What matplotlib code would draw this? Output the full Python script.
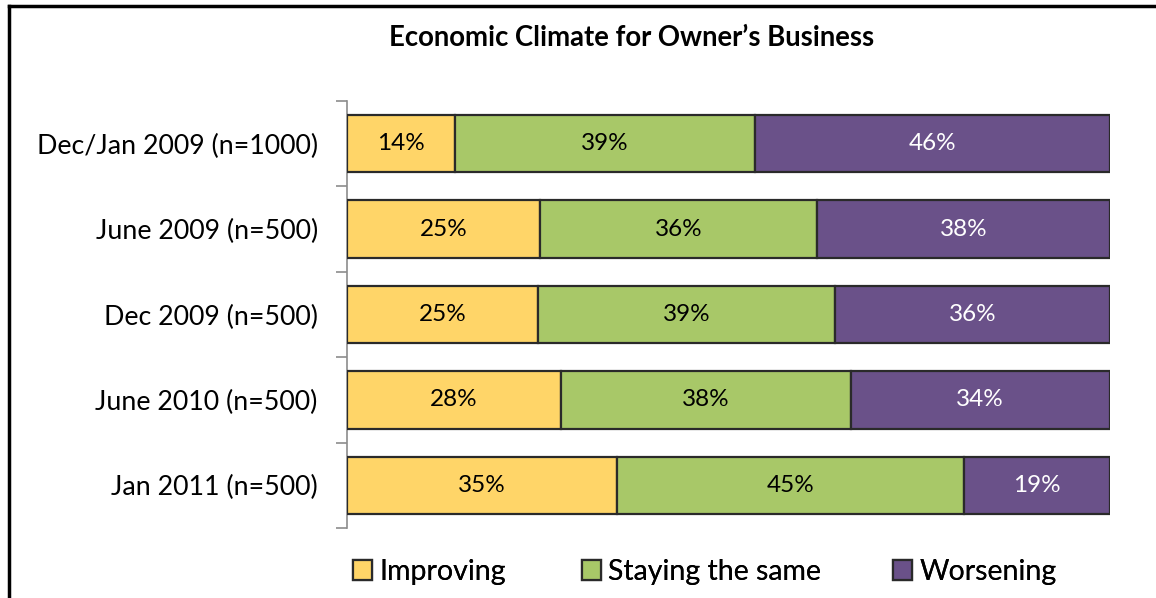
import matplotlib
matplotlib.use("Agg")
import matplotlib.pyplot as plt
from matplotlib.lines import Line2D
import numpy as np

plt.rcParams['font.family'] = ['Lato', 'DejaVu Sans']

categories = ["Dec/Jan 2009 (n=1000)", "June 2009 (n=500)", "Dec 2009 (n=500)",
              "June 2010 (n=500)", "Jan 2011 (n=500)"]
series_names = ["Improving", "Staying the same", "Worsening"]
improving = [14, 25, 25, 28, 35]
staying = [39, 36, 39, 38, 45]
worsening = [46, 38, 36, 34, 19]
title = "Economic Climate for Owner\u2019s Business"

colors = ["#FFD568", "#A8C868", "#6A5189"]
text_colors = ["black", "black", "white"]

W, H = 1156, 598
fig = plt.figure(figsize=(W / 100, H / 100), dpi=100)
ax = fig.add_axes([347 / W, 1 - 528 / H, (1110 - 347) / W, (528 - 101) / H])

y = np.arange(len(categories))
series = [np.array(s, dtype=float) for s in (improving, staying, worsening)]
totals = sum(series)
left = np.zeros(len(categories))
handles = []
for name, vals, c, tc in zip(series_names, series, colors, text_colors):
    share = vals / totals * 100
    bars = ax.barh(y, share, left=left, height=0.67, color=c, edgecolor="#2a2a2a",
                   linewidth=1.6, label=name, zorder=3)
    handles.append(bars)
    for b, v in zip(bars, vals):
        ax.text(b.get_x() + b.get_width() / 2, b.get_y() + b.get_height() / 2,
                f"{int(v)}%", ha="center", va="center", color=tc, fontsize=17.5, zorder=4)
    left += share

ax.set_xlim(0, 100)
ax.set_ylim(len(categories) - 0.5, -0.5)
ax.set_yticks(y)
ax.set_yticklabels(categories, fontsize=19.3)
ax.set_yticks(np.arange(len(categories) + 1) - 0.5, minor=True)
ax.tick_params(axis="y", which="major", length=0, pad=21)
ax.tick_params(axis="y", which="minor", length=8, color="#8c8c8c", width=1.2)
ax.set_xticks([])
for s in ["top", "right", "bottom"]:
    ax.spines[s].set_visible(False)
ax.spines["left"].set_color("#8c8c8c")
ax.spines["left"].set_linewidth(1.2)

fig.text(632 / W, 1 - 38 / H, title, ha="center", va="center", fontsize=19.8, fontweight="bold")

legend_x = [353, 582, 893]
for h, name, lx in zip(handles, series_names, legend_x):
    lg = fig.legend([h], [name], loc="center left", bbox_to_anchor=(lx / W, 1 - 572 / H),
                    frameon=False, fontsize=20.5, handlelength=0.68, handleheight=0.68,
                    handletextpad=0.25, borderpad=0, borderaxespad=0)
    fig.add_artist(lg)

fig.add_artist(Line2D([9 / W, 9 / W], [0, 1 - 6 / H], transform=fig.transFigure, color="black", lw=2.5))
fig.add_artist(Line2D([9 / W, 1], [1 - 6 / H, 1 - 6 / H], transform=fig.transFigure, color="black", lw=2.5))

fig.savefig("out.png", dpi=100)
